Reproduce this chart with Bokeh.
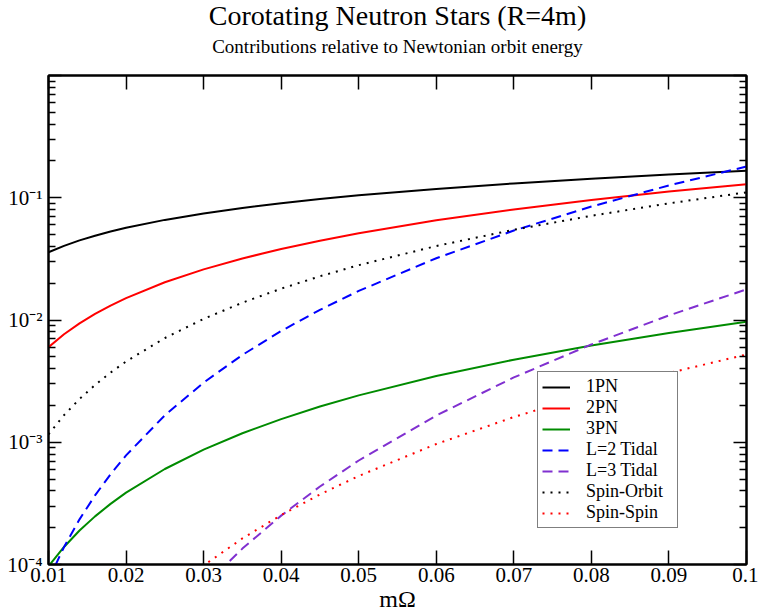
from bokeh.plotting import figure
from bokeh.models import (Range1d, LinearAxis, LogAxis, FixedTicker,
                          CustomJSTickFormatter, Title)
from bokeh.embed import file_html
from bokeh.resources import INLINE

# ---- data ----
m_omega = [0.010, 0.012, 0.014, 0.016, 0.018, 0.020, 0.025, 0.030, 0.035,
           0.040, 0.045, 0.050, 0.060, 0.070, 0.080, 0.090, 0.100]
pn1 = [0.0358, 0.0404, 0.0448, 0.0489, 0.0529, 0.0568, 0.0659, 0.0744, 0.0825,
       0.0902, 0.0975, 0.1046, 0.1181, 0.1309, 0.1431, 0.1548, 0.1661]
pn2 = [0.00600, 0.00765, 0.00939, 0.01123, 0.01313, 0.01511, 0.02035, 0.02595,
       0.03187, 0.03809, 0.04456, 0.05128, 0.06539, 0.08032, 0.09596, 0.1123, 0.1292]
pn3 = [9.67e-5, 1.392e-4, 1.895e-4, 2.476e-4, 3.133e-4, 3.868e-4, 6.044e-4,
       8.703e-4, 1.185e-3, 1.547e-3, 1.958e-3, 2.418e-3, 3.481e-3, 4.738e-3,
       6.189e-3, 7.833e-3, 9.67e-3]
tidal_l2 = [7.50e-5, 1.389e-4, 2.340e-4, 3.674e-4, 5.470e-4, 7.81e-4, 1.661e-3,
            3.075e-3, 5.18e-3, 8.13e-3, 0.01211, 0.01729, 0.03202, 0.05391,
            0.08468, 0.1261, 0.180]
spin_orbit = [1.16e-3, 1.665e-3, 2.259e-3, 2.942e-3, 3.714e-3, 4.576e-3, 7.12e-3,
              1.021e-2, 1.386e-2, 1.805e-2, 2.279e-2, 2.808e-2, 4.030e-2,
              5.468e-2, 7.12e-2, 8.99e-2, 0.1108]

m_omega_hi = [0.025, 0.030, 0.035, 0.040, 0.045, 0.050, 0.060, 0.070, 0.080,
              0.090, 0.100]
tidal_l3 = [2.82e-5, 6.59e-5, 1.349e-4, 2.511e-4, 4.345e-4, 7.09e-4, 1.655e-3,
            3.389e-3, 6.31e-3, 0.01090, 0.0178]
spin_spin = [5.38e-5, 9.82e-5, 1.634e-4, 2.538e-4, 3.743e-4, 5.30e-4, 9.67e-4,
             1.609e-3, 2.500e-3, 3.687e-3, 5.22e-3]

x_tick_values = [0.01, 0.02, 0.03, 0.04, 0.05, 0.06, 0.07, 0.08, 0.09, 0.1]
x_tick_labels = ["0.01", "0.02", "0.03", "0.04", "0.05", "0.06", "0.07", "0.08", "0.09", "0.1"]
y_tick_values = [1e-4, 1e-3, 1e-2, 1e-1, 1.0]
y_tick_labels = ["10\u207b\u2074", "10\u207b\u00b3", "10\u207b\u00b2", "10\u207b\u00b9", ""]
y_minor_ticks = [k * 10.0 ** e for e in range(-4, 0) for k in range(2, 10)]

title_text = "Corotating Neutron Stars (R=4m)"
subtitle_text = "Contributions relative to Newtonian orbit energy"
x_label = "m\u03a9"

FONT = "Liberation Serif"

p = figure(width=758, height=614, x_range=Range1d(0.01, 0.1),
           y_range=Range1d(1e-4, 1.0), y_axis_type="log",
           output_backend="svg", toolbar_location=None,
           min_border_left=48, min_border_right=12, min_border_top=75,
           min_border_bottom=50, background_fill_color="white",
           border_fill_color="white", outline_line_color="black",
           outline_line_width=2)
p.grid.visible = False

fmt_js = """
for (let i = 0; i < vals.length; i++) {
  if (Math.abs(tick - vals[i]) <= 1e-6 * Math.abs(vals[i])) return labels[i];
}
return "";
"""
xfmt = CustomJSTickFormatter(args=dict(vals=x_tick_values, labels=x_tick_labels), code=fmt_js)
yfmt = CustomJSTickFormatter(args=dict(vals=y_tick_values, labels=y_tick_labels), code=fmt_js)
blankfmt = CustomJSTickFormatter(code='return "";')


def style(ax, tick_in, minor_in):
    ax.axis_line_width = 2
    ax.axis_line_color = "black"
    ax.major_tick_in = tick_in
    ax.major_tick_out = 0
    ax.minor_tick_in = minor_in
    ax.minor_tick_out = 0
    ax.major_tick_line_width = 1.5
    ax.minor_tick_line_width = 1.5
    ax.major_tick_line_color = "black"
    ax.minor_tick_line_color = "black"
    ax.major_label_text_font = FONT
    ax.major_label_text_font_size = "21px"
    ax.major_label_text_color = "black"


xa = p.xaxis[0]
xa.ticker = FixedTicker(ticks=x_tick_values, minor_ticks=[])
xa.formatter = xfmt
style(xa, 14, 0)
xa.major_label_standoff = 3
xa.axis_label = x_label
xa.axis_label_text_font = FONT
xa.axis_label_text_font_size = "24px"
xa.axis_label_text_font_style = "normal"
xa.axis_label_text_color = "black"
xa.axis_label_standoff = 1

ya = p.yaxis[0]
ya.ticker = FixedTicker(ticks=y_tick_values, minor_ticks=y_minor_ticks)
ya.formatter = yfmt
style(ya, 13, 7)
ya.major_label_standoff = 6

top = LinearAxis(ticker=FixedTicker(ticks=x_tick_values, minor_ticks=[]),
                 formatter=blankfmt)
style(top, 14, 0)
top.major_label_standoff = 0
p.add_layout(top, "above")

right = LogAxis(ticker=FixedTicker(ticks=y_tick_values, minor_ticks=y_minor_ticks),
                formatter=blankfmt)
style(right, 13, 7)
right.major_label_standoff = 0
p.add_layout(right, "right")

p.add_layout(Title(text=subtitle_text, text_font=FONT, text_font_size="19px",
                   text_font_style="normal", text_color="black", align="center",
                   standoff=38), "above")
p.title.text = title_text
p.title.text_font = FONT
p.title.text_font_size = "28px"
p.title.text_font_style = "normal"
p.title.text_color = "black"
p.title.align = "center"
p.title.standoff = -32

GREEN = "#008b00"
PURPLE = "#8030d0"

p.line(m_omega, pn1, line_color="black", line_width=2, legend_label="1PN")
p.line(m_omega, pn2, line_color="red", line_width=2, legend_label="2PN")
p.line(m_omega, pn3, line_color=GREEN, line_width=2, legend_label="3PN")
p.line(m_omega, tidal_l2, line_color="blue", line_width=2, line_dash="10 6",
       legend_label="L=2 Tidal")
p.line(m_omega_hi, tidal_l3, line_color=PURPLE, line_width=2, line_dash="10 6",
       legend_label="L=3 Tidal")
p.line(m_omega, spin_orbit, line_color="black", line_width=2, line_dash="2 6",
       legend_label="Spin-Orbit")
p.line(m_omega_hi, spin_spin, line_color="red", line_width=2, line_dash="2 6",
       legend_label="Spin-Spin")

leg = p.legend[0]
leg.location = (489, 36)
leg.border_line_color = "black"
leg.border_line_width = 1
leg.background_fill_color = "white"
leg.background_fill_alpha = 1.0
leg.label_text_font = FONT
leg.label_text_font_size = "18px"
leg.label_text_color = "black"
leg.glyph_width = 28
leg.glyph_height = 20
leg.label_height = 20
leg.label_width = 87
leg.label_standoff = 16
leg.spacing = 0
leg.padding = 4
leg.margin = 0

open("out.html", "w").write(file_html(p, INLINE))
